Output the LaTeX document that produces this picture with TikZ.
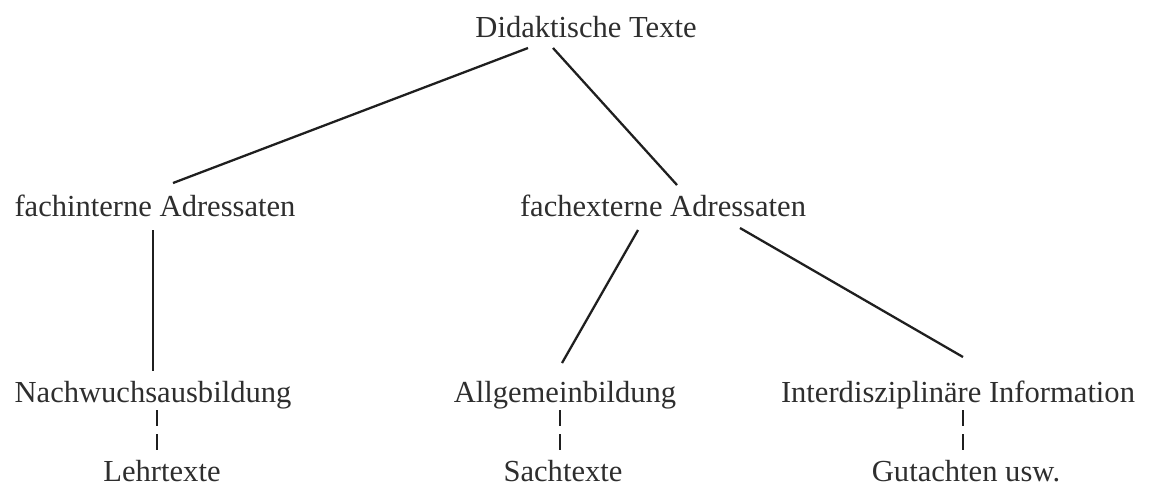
\documentclass[tikz,border=0pt]{standalone}
\usepackage{fontspec}
\setmainfont{Liberation Serif}
\usepackage{tikz}
\usetikzlibrary{arrows.meta, positioning, calc}

\begin{document}
\begin{tikzpicture}[
            x=0.02cm,
            y=-0.02cm,
            every node/.style={
                    inner sep=0pt,
                    outer sep=0pt,
                    text height=0.66cm,
                    text depth=0.22cm,
                    anchor=base,
                    text=black!82,
                    font=\fontsize{17.4}{20}\selectfont
                },
            bottom label/.style={
                    text depth=0pt
                },
            connecting line/.style={
                    draw=black!88,
                    line width=1.3pt
                },
            dashed link/.style={
                    draw=black!88,
                    line width=1.3pt,
                    dash pattern=on 0.32cm off 0.16cm
                }
        ]

        \useasboundingbox (0, 0) rectangle (1151, 488);

        % Top
        \node (didaktik) at (586, 37) {Didaktische Texte};

        % Addressees
        \node (intern) at (155, 216) {fachinterne Adressaten};
        \node (extern) at (663, 216) {fachexterne Adressaten};

        % Purposes
        \node (nachwuchs) at (153, 402) {Nachwuchsausbildung};
        \node (allgemein) at (565, 402) {Allgemeinbildung};
        \node (interdis) at (958, 402) {Interdisziplinäre Information};

        % Text types
        \node[bottom label] (lehr) at (162, 481) {Lehrtexte};
        \node[bottom label] (sach) at (563, 481) {Sachtexte};
        \node[bottom label] (gutachten) at (966, 481) {Gutachten usw.};

        % Connections
        \draw[connecting line] ([shift={(-58,0)}]didaktik.south) -- ([shift={(18,0)}]intern.north);
        \draw[connecting line] ([shift={(-33,0)}]didaktik.south) -- ([shift={(14,2)}]extern.north);

        \draw[connecting line] ([shift={(-2,3)}]intern.south) -- ([shift={(0,2)}]nachwuchs.north);
        \draw[connecting line] ([shift={(-25,3)}]extern.south) -- ([shift={(-3,-6)}]allgemein.north);
        \draw[connecting line] ([shift={(77,1)}]extern.south) -- ([shift={(5,-12)}]interdis.north);

        % Dashed links
        \draw[dashed link] ([shift={(4,-3)}]nachwuchs.south) -- ([shift={(4,2)}]nachwuchs.south |- lehr.north);
        \draw[dashed link] ([shift={(-5,-3)}]allgemein.south) -- ([shift={(-5,2)}]allgemein.south |- sach.north);
        \draw[dashed link] ([shift={(5,-3)}]interdis.south) -- ([shift={(5,2)}]interdis.south |- gutachten.north);

    \end{tikzpicture}
\end{document}
